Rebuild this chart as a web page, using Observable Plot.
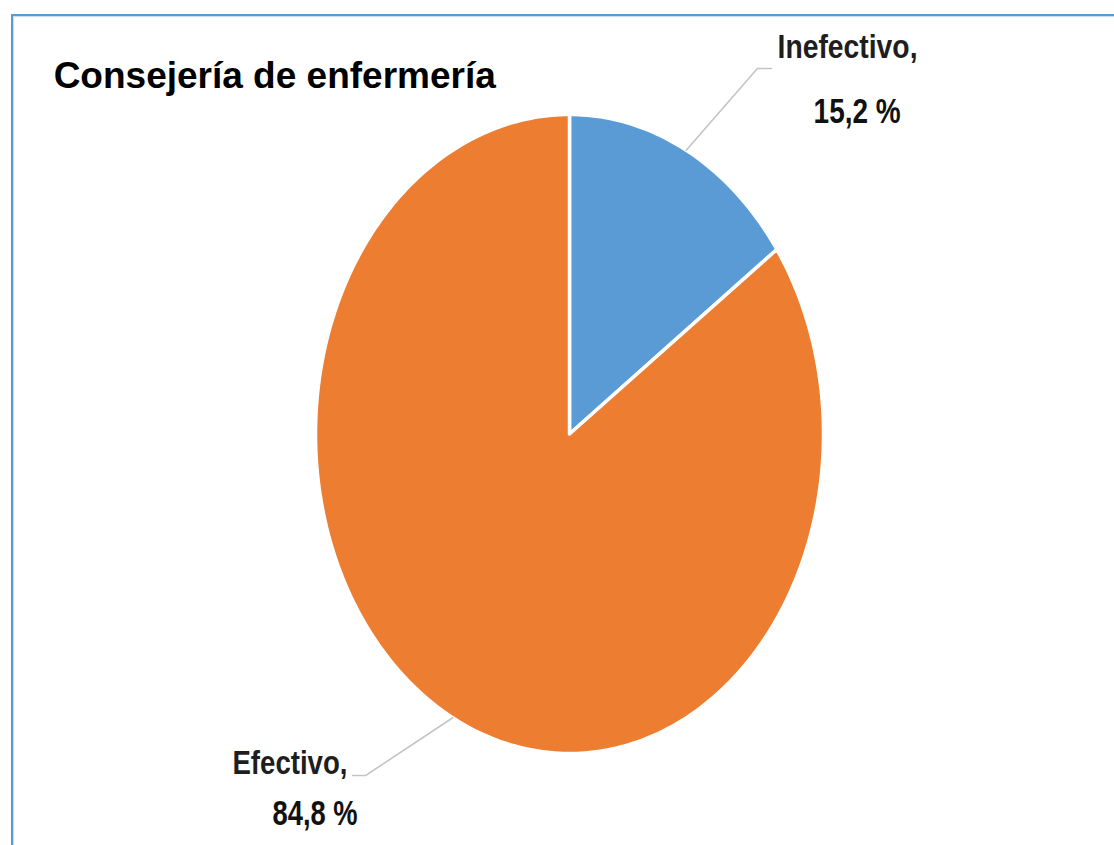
<!DOCTYPE html>
<html>
<head>
<meta charset="utf-8">
<script src="https://cdn.jsdelivr.net/npm/d3@7"></script>
<script src="https://cdn.jsdelivr.net/npm/@observablehq/plot@0.6"></script>
<style>
  html, body { margin: 0; padding: 0; background: #fff; }
  #wrap { position: relative; width: 1114px; height: 845px; overflow: hidden; }
  #frame { position: absolute; left: 11px; top: 14px; width: 1200px; height: 900px;
           border-top: 2px solid #5B9BD5; border-left: 2px solid #5B9BD5;
           box-shadow: inset 1px 1px 1px rgba(91,155,213,0.35); }
  #chart { position: absolute; left: 0; top: 0; }
</style>
</head>
<body>
<div id="wrap"><div id="frame"></div><div id="chart"></div></div>
<script>
// ---- data ----
const title = "Consejería de enfermería";
const categories = ["Inefectivo", "Efectivo"];
const values = [15.2, 84.8];
const colors = ["#5B9BD5", "#ED7D31"];

// ---- label layout (data units of the unit pie: x,y in [-1,1]) ----
const nameLabelPos = [[0.819, 1.178], [-1.327, -1.063]];
const pctLabelPos  = [[0.961, 0.972], [-1.169, -1.225]];
const leaderElbow  = [[0.740, 1.144], [-0.803, -1.069]];
const leaderEnd    = [[0.795, 1.144], [-0.854, -1.069]];
const titlePos = [-2.031, 1.0845];
// condensed label widths (px), to imitate a narrow font
const nameWidths = [140, 115];
const pctWidths = [87, 85];

// ---- build slice outlines ----
const total = d3.sum(values);
let acc = 0;
const slicePts = [];
const mids = [];
categories.forEach((c, i) => {
  const a0 = acc / total * 2 * Math.PI;
  acc += values[i];
  const a1 = acc / total * 2 * Math.PI;
  mids.push((a0 + a1) / 2);
  const n = Math.max(8, Math.ceil((a1 - a0) / (Math.PI / 180)));
  slicePts.push({cat: c, x: 0, y: 0});
  for (let k = 0; k <= n; k++) {
    const a = a0 + (a1 - a0) * k / n;
    slicePts.push({cat: c, x: Math.sin(a), y: Math.cos(a)});
  }
  slicePts.push({cat: c, x: 0, y: 0});
});

const leaders = [];
categories.forEach((c, i) => {
  leaders.push({cat: c, x: Math.sin(mids[i]), y: Math.cos(mids[i])});
  leaders.push({cat: c, x: leaderElbow[i][0], y: leaderElbow[i][1]});
  leaders.push({cat: c, x: leaderEnd[i][0], y: leaderEnd[i][1]});
});

const fmt = v => v.toFixed(1).replace(".", ",") + " %";
const nameLabels = categories.map((c, i) => ({x: nameLabelPos[i][0], y: nameLabelPos[i][1], t: c + ",", w: nameWidths[i]}));
const pctLabels = categories.map((c, i) => ({x: pctLabelPos[i][0], y: pctLabelPos[i][1], t: fmt(values[i]), w: pctWidths[i]}));

const labelFont = "'Liberation Sans', Arial, sans-serif";

const chart = Plot.plot({
  width: 1114,
  height: 845,
  marginLeft: 315,
  marginRight: 1114 - 823,
  marginTop: 114,
  marginBottom: 845 - 753,
  x: {domain: [-1, 1], axis: null},
  y: {domain: [-1, 1], axis: null},
  color: {domain: categories, range: colors},
  style: {background: "transparent", overflow: "visible"},
  marks: [
    Plot.line(slicePts, {x: "x", y: "y", z: "cat", fill: "cat", stroke: "#ffffff", strokeWidth: 3.5, strokeLinejoin: "round", curve: "linear"}),
    Plot.line(leaders, {x: "x", y: "y", z: "cat", stroke: "#c4c4c4", strokeWidth: 1.6, curve: "linear"}),
    Plot.text(nameLabels, {x: "x", y: "y", text: "t", textAnchor: "start", lineAnchor: "bottom", fontSize: 34, fontWeight: "bold", fill: "#1e1e1e", fontFamily: labelFont}),
    Plot.text(pctLabels, {x: "x", y: "y", text: "t", textAnchor: "start", lineAnchor: "bottom", fontSize: 35, fontWeight: "bold", fill: "#111", fontFamily: labelFont}),
    Plot.text([title], {x: () => titlePos[0], y: () => titlePos[1], text: d => d, textAnchor: "start", lineAnchor: "bottom", fontSize: 37, fontWeight: "bold", fill: "#000", fontFamily: "'Liberation Sans', Arial, sans-serif"})
  ]
});
document.getElementById("chart").appendChild(chart);

// squeeze label glyphs horizontally to imitate the narrow label font
const widthByText = new Map([...nameLabels, ...pctLabels].map(d => [d.t, d.w]));
chart.querySelectorAll("text").forEach(t => {
  const w = widthByText.get(t.textContent);
  if (w != null) {
    t.setAttribute("textLength", w);
    t.setAttribute("lengthAdjust", "spacingAndGlyphs");
  }
});
</script>
</body>
</html>
